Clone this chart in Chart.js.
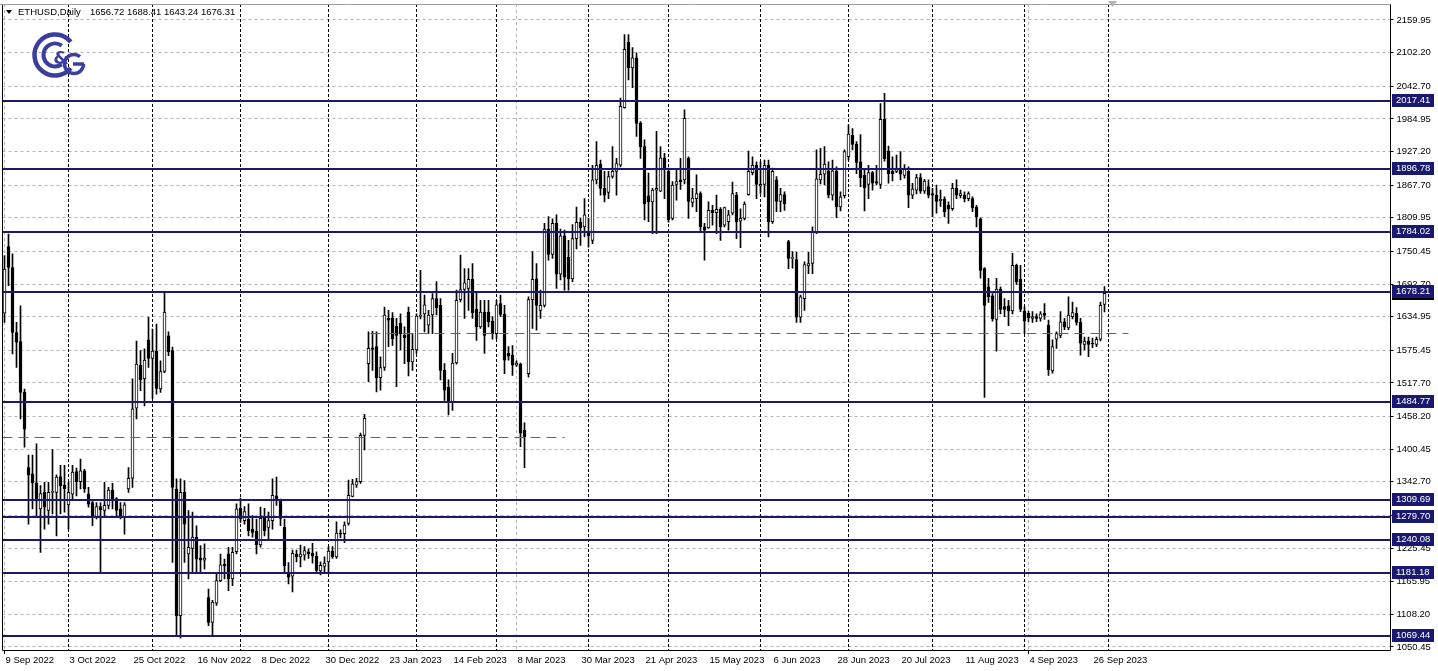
<!DOCTYPE html>
<html><head><meta charset="utf-8">
<script src="https://cdn.jsdelivr.net/npm/chart.js@4/dist/chart.umd.min.js"></script>
<style>html,body{margin:0;padding:0;background:#fff;overflow:hidden}canvas{display:block}</style>
</head><body>
<canvas id="c" width="1438" height="671"></canvas>
<script>
const symbolName = 'ETHUSD,Daily';
const firstBarDate = [2022, 8, 9]; // 9 Sep 2022, weekday bars
const totalSlots = 347;

const opens = [
1641,1759,1722,1607,1591,1501,1368,1357,1341,1295,
1324,1292,1324,1324,1352,1337,1302,1321,1361,1343,
1362,1321,1306,1280,1299,1292,1301,1328,1313,1295,
1280,1330,1349,1473,1549,1525,1594,1561,1574,1507,
1538,1601,1575,1330,1106,1324,1215,1225,1245,1208,
1204,1138,1094,1128,1168,1197,1215,1171,1219,1296,
1274,1277,1259,1255,1231,1278,1262,1274,1318,1309,
1262,1180,1176,1215,1210,1213,1219,1216,1211,1185,
1193,1201,1220,1210,1252,1251,1269,1317,1337,1343,
1425,1552,1580,1582,1527,1545,1632,1633,1618,1623,
1602,1643,1555,1576,1636,1640,1620,1638,1667,1655,
1540,1510,1484,1553,1665,1683,1685,1701,1648,1617,
1643,1643,1627,1605,1658,1639,1570,1567,1549,1551,
1434,1534,1665,1702,1646,1655,1790,1745,1800,1710,
1778,1740,1702,1773,1802,1794,1785,1770,1877,1905,
1862,1855,1883,1892,1903,2005,2121,2075,2093,1977,
1936,1849,1838,1859,1857,1916,1892,1809,1869,1877,
1877,1915,1837,1844,1853,1794,1792,1823,1819,1825,
1797,1803,1818,1850,1804,1809,1851,1890,1903,1866,
1869,1903,1803,1877,1839,1851,1768,1738,1736,1634,
1667,1725,1729,1785,1877,1887,1893,1850,1892,1829,
1849,1918,1956,1940,1909,1885,1869,1890,1874,1869,
1984,1928,1892,1892,1896,1885,1892,1850,1859,1881,
1857,1865,1853,1850,1840,1843,1832,1826,1862,1849,
1850,1844,1844,1829,1808,1720,1688,1672,1630,1684,
1653,1654,1645,1726,1701,1645,1641,1632,1635,1632,
1641,1620,1539,1595,1602,1626,1615,1635,1641,1625,
1586,1592,1588,1586,1595,1656.72];

const highs = [
1743,1781,1746,1625,1654,1507,1390,1390,1410,1336,
1342,1342,1400,1355,1372,1372,1342,1372,1367,1383,
1365,1333,1310,1306,1306,1342,1333,1340,1315,1306,
1306,1368,1525,1592,1575,1578,1634,1613,1622,1557,
1678,1608,1581,1348,1348,1345,1292,1289,1265,1230,
1233,1153,1133,1180,1215,1206,1227,1227,1304,1314,
1299,1304,1283,1277,1298,1296,1289,1348,1351,1312,
1277,1200,1222,1222,1231,1228,1224,1234,1219,1201,
1210,1228,1228,1272,1258,1272,1346,1347,1349,1429,
1462,1608,1609,1608,1564,1652,1646,1642,1632,1640,
1617,1652,1605,1640,1717,1673,1646,1676,1697,1667,
1552,1523,1570,1682,1744,1720,1720,1729,1679,1664,
1664,1664,1635,1664,1673,1655,1582,1584,1557,1553,
1447,1670,1750,1729,1682,1800,1812,1808,1815,1790,
1788,1770,1798,1829,1809,1844,1809,1903,1945,1912,
1892,1892,1936,1915,2022,2134,2134,2111,2102,1980,
1948,1889,1862,1963,1936,1924,1898,1874,1895,1915,
2001,1918,1862,1886,1856,1800,1838,1832,1850,1828,
1829,1823,1873,1855,1826,1838,1928,1918,1909,1909,
1912,1912,1898,1883,1862,1856,1770,1750,1749,1673,
1732,1749,1794,1930,1933,1936,1909,1912,1900,1856,
1930,1974,1968,1945,1957,1894,1903,1892,1903,2012,
2030,1937,1918,1921,1927,1904,1900,1871,1887,1888,
1878,1877,1862,1868,1859,1847,1838,1871,1877,1859,
1856,1856,1847,1832,1810,1722,1703,1676,1703,1688,
1667,1664,1747,1728,1726,1653,1645,1644,1640,1644,
1658,1629,1594,1608,1644,1632,1670,1661,1651,1632,
1599,1599,1597,1599,1661,1688.41];

const lows = [
1625,1690,1569,1545,1454,1404,1268,1295,1283,1218,
1259,1268,1286,1247,1286,1289,1259,1312,1318,1330,
1324,1298,1265,1277,1183,1283,1295,1295,1283,1277,
1250,1324,1333,1454,1504,1477,1545,1490,1498,1501,
1536,1566,1200,1071,1066,1200,1171,1183,1183,1180,
1188,1088,1071,1124,1166,1171,1150,1159,1215,1271,
1268,1247,1245,1215,1227,1247,1239,1259,1301,1265,
1183,1162,1148,1201,1192,1204,1207,1199,1180,1178,
1180,1183,1207,1207,1244,1235,1266,1316,1333,1340,
1399,1520,1540,1502,1505,1540,1582,1584,1511,1576,
1552,1530,1540,1570,1631,1608,1605,1605,1638,1523,
1487,1461,1469,1551,1661,1632,1646,1632,1593,1614,
1570,1617,1595,1596,1635,1534,1558,1531,1547,1405,
1368,1528,1614,1611,1632,1652,1735,1738,1685,1700,
1682,1682,1697,1755,1761,1776,1758,1764,1870,1850,
1838,1844,1880,1850,1900,2004,2054,2040,1954,1915,
1806,1803,1782,1782,1856,1844,1802,1806,1841,1860,
1870,1809,1829,1821,1786,1735,1791,1797,1782,1770,
1794,1788,1815,1773,1757,1806,1850,1886,1844,1853,
1847,1776,1800,1821,1821,1823,1720,1721,1625,1625,
1646,1711,1711,1782,1870,1868,1845,1841,1810,1822,
1845,1912,1930,1888,1865,1822,1844,1859,1868,1862,
1910,1871,1875,1890,1877,1880,1828,1844,1852,1853,
1853,1845,1812,1818,1830,1812,1800,1823,1844,1845,
1838,1840,1821,1794,1703,1492,1660,1627,1574,1640,
1635,1619,1640,1692,1644,1605,1626,1625,1626,1627,
1630,1531,1535,1579,1598,1612,1612,1631,1620,1567,
1576,1564,1580,1582,1592,1643.24];

const closes = [
1719,1722,1607,1590,1501,1436,1355,1341,1309,1322,
1298,1324,1326,1351,1336,1330,1324,1360,1343,1362,
1330,1303,1280,1299,1293,1301,1328,1311,1292,1280,
1302,1349,1472,1551,1523,1558,1561,1574,1508,1538,
1643,1573,1333,1106,1324,1268,1227,1245,1206,1204,
1208,1094,1130,1168,1196,1194,1171,1218,1295,1277,
1290,1256,1253,1231,1278,1256,1274,1319,1309,1278,
1194,1174,1216,1210,1215,1221,1215,1211,1186,1195,
1199,1220,1210,1252,1250,1266,1319,1339,1343,1425,
1455,1579,1577,1527,1545,1638,1629,1596,1602,1605,
1598,1555,1577,1636,1637,1656,1638,1667,1651,1540,
1505,1484,1553,1664,1683,1695,1701,1642,1617,1643,
1602,1626,1605,1656,1639,1558,1565,1549,1553,1429,
1422,1665,1701,1655,1655,1790,1745,1800,1710,1778,
1705,1702,1773,1802,1792,1815,1778,1877,1903,1862,
1850,1883,1892,1906,2007,2108,2075,2093,1977,1936,
1835,1838,1859,1862,1916,1895,1806,1868,1874,1874,
1986,1839,1845,1853,1794,1788,1823,1819,1825,1794,
1828,1815,1853,1803,1809,1834,1892,1903,1869,1869,
1903,1803,1892,1839,1851,1835,1738,1740,1634,1670,
1727,1729,1785,1879,1887,1905,1850,1893,1829,1847,
1927,1958,1940,1908,1881,1863,1890,1871,1871,1984,
1914,1888,1888,1896,1887,1897,1850,1861,1881,1857,
1875,1850,1850,1839,1843,1821,1825,1862,1850,1853,
1844,1853,1828,1812,1717,1655,1670,1631,1684,1648,
1648,1645,1726,1697,1648,1627,1633,1635,1632,1640,
1637,1541,1582,1605,1626,1617,1638,1642,1625,1588,
1592,1586,1587,1595,1655,1676.31];

const xTickLabels = ['9 Sep 2022','3 Oct 2022','25 Oct 2022','16 Nov 2022','8 Dec 2022','30 Dec 2022',
  '23 Jan 2023','14 Feb 2023','8 Mar 2023','30 Mar 2023','21 Apr 2023','15 May 2023','6 Jun 2023',
  '28 Jun 2023','20 Jul 2023','11 Aug 2023','4 Sep 2023','26 Sep 2023'];
const yTicks = [2159.95,2102.20,2042.70,1984.95,1927.20,1867.70,1809.95,1750.45,1692.70,1634.95,
  1575.45,1517.70,1458.20,1400.45,1342.70,1283.20,1225.45,1165.95,1108.20,1050.45];
const levels = [2017.41,1896.78,1784.02,1678.21,1484.77,1309.69,1279.70,1240.08,1181.18,1069.44];
const trendPrices = [1421.2, 1606.1];
const trendFromBar = [0, 92];
const trendToBar = [140, 281];

// ---- derived ----
const nBars = opens.length;
const dates = [];
{
  let t = Date.UTC(firstBarDate[0], firstBarDate[1], firstBarDate[2]);
  while (dates.length < totalSlots) {
    const d = new Date(t);
    const wd = d.getUTCDay();
    if (wd !== 0 && wd !== 6) dates.push(d);
    t += 86400000;
  }
}
const categories = dates.map(d => d.toISOString().slice(0, 10));
const wickData = categories.map((_, i) => i < nBars ? [lows[i], highs[i]] : null);
const bodyData = categories.map((_, i) => {
  if (i >= nBars) return null;
  let lo = Math.min(opens[i], closes[i]), hi = Math.max(opens[i], closes[i]);
  if (hi - lo < 1.8) { const m = (hi + lo) / 2; lo = m - 0.9; hi = m + 0.9; }
  return [lo, hi];
});
const bodyFill = categories.map((_, i) => i < nBars && closes[i] >= opens[i] ? '#ffffff' : '#000000');

const NAVY = '#191970';
const FAMILY = '"Liberation Sans", Arial, sans-serif';
const FONT = '9.5px ' + FAMILY;
const GRID = '#b4b4b4';

const overlay = {
  id: 'overlay',
  beforeDatasetsDraw(chart) {
    const {ctx, chartArea: a, scales: {x}} = chart;
    ctx.save();
    // period separators (first bar of each month)
    ctx.strokeStyle = '#000'; ctx.lineWidth = 1; ctx.setLineDash([3, 2]);
    for (let i = 1; i <= nBars && i < dates.length; i++) {
      if (dates[i].getUTCMonth() !== dates[i - 1].getUTCMonth()) {
        const px = x.getPixelForValue(i);
        ctx.beginPath(); ctx.moveTo(px, a.top); ctx.lineTo(px, a.bottom); ctx.stroke();
      }
    }
    ctx.setLineDash([]);
    // logo
    ctx.strokeStyle = '#3a3f9f'; ctx.fillStyle = '#3a3f9f';
    ctx.lineWidth = 4.5;
    ctx.beginPath(); ctx.arc(55, 55, 20.5, 0.22 * Math.PI, 1.78 * Math.PI); ctx.stroke();
    ctx.lineWidth = 4;
    ctx.beginPath(); ctx.arc(55, 55, 11.5, 0.3 * Math.PI, 1.7 * Math.PI); ctx.stroke();
    ctx.lineWidth = 3.5;
    ctx.beginPath(); ctx.arc(74, 64, 9.5, 0, 1.72 * Math.PI); ctx.stroke();
    ctx.beginPath(); ctx.moveTo(73, 64); ctx.lineTo(84, 64); ctx.stroke();
    ctx.font = 'bold 18px "DejaVu Sans", sans-serif';
    ctx.textAlign = 'center'; ctx.textBaseline = 'middle';
    ctx.fillText('&', 61, 59);
    ctx.restore();
  },
  afterDatasetsDraw(chart) {
    const {ctx, chartArea: a, scales: {x, y}} = chart;
    ctx.save();
    ctx.fillStyle = NAVY;
    levels.forEach(v => {
      const py = Math.round(y.getPixelForValue(v));
      ctx.fillRect(a.left, py - 1, a.right - a.left, 2);
    });
    ctx.strokeStyle = '#3c8c00'; ctx.lineWidth = 1; ctx.setLineDash([10, 6]);
    trendPrices.forEach((v, k) => {
      const py = Math.round(y.getPixelForValue(v)) + 0.5;
      const x0 = Math.max(a.left, x.getPixelForValue(trendFromBar[k]) - 2);
      const x1 = x.getPixelForValue(trendToBar[k]);
      ctx.beginPath(); ctx.moveTo(x0, py); ctx.lineTo(x1, py); ctx.stroke();
    });
    ctx.restore();
  },
  afterDraw(chart) {
    const {ctx, chartArea: a, scales: {y}} = chart;
    ctx.save();
    // frame
    ctx.strokeStyle = '#000'; ctx.lineWidth = 1;
    ctx.beginPath();
    ctx.moveTo(2.5, a.top); ctx.lineTo(2.5, 650.5); ctx.lineTo(1390.5, 650.5); ctx.lineTo(1390.5, a.top);
    ctx.stroke();
    ctx.strokeStyle = '#a0a0a0';
    ctx.beginPath(); ctx.moveTo(0, 4.5); ctx.lineTo(1390.5, 4.5); ctx.stroke();
    // chart shift marker
    ctx.fillStyle = '#b4b4b4';
    ctx.beginPath(); ctx.moveTo(1108, 1); ctx.lineTo(1117, 1); ctx.lineTo(1112.5, 7); ctx.closePath(); ctx.fill();
    // price labels
    ctx.font = FONT; ctx.textBaseline = 'middle'; ctx.textAlign = 'left';
    const bid = closes[nBars - 1];
    const pb = Math.round(y.getPixelForValue(bid));
    ctx.fillStyle = '#000'; ctx.fillRect(1392, pb - 6, 42, 13);
    levels.forEach(v => {
      const py = Math.round(y.getPixelForValue(v));
      ctx.fillStyle = NAVY; ctx.fillRect(1392, py - 7, 42, 13);
      ctx.fillStyle = '#fff'; ctx.fillText(v.toFixed(2), 1396, py - 0.5);
    });
    // header
    ctx.fillStyle = '#000';
    ctx.beginPath(); ctx.moveTo(6, 10); ctx.lineTo(12, 10); ctx.lineTo(9, 14); ctx.closePath(); ctx.fill();
    ctx.fillText(symbolName, 18, 12.5);
    const hdr = [opens[nBars-1], highs[nBars-1], lows[nBars-1], closes[nBars-1]].map(v => v.toFixed(2)).join(' ');
    ctx.fillText(hdr, 90, 12.5);
    ctx.restore();
  }
};

new Chart(document.getElementById('c'), {
  type: 'bar',
  data: {
    labels: categories,
    datasets: [
      { label: 'body', data: bodyData, backgroundColor: bodyFill, borderColor: '#000', borderWidth: 1,
        borderSkipped: false, barThickness: 3, grouped: false, order: 0 },
      { label: 'wick', data: wickData, backgroundColor: '#000', borderWidth: 0,
        barThickness: 1, grouped: false, order: 1 }
    ]
  },
  options: {
    responsive: false, animation: false, devicePixelRatio: 1, events: [],
    layout: { padding: { left: 2.5, top: 4, right: 0, bottom: 0 } },
    plugins: { legend: { display: false }, tooltip: { enabled: false } },
    scales: {
      x: {
        type: 'category', offset: true,
        grid: {
          offset: false, lineWidth: 1, drawTicks: true, tickLength: 4, tickBorderDash: [],
          color: c => (c.index % 8 === 0) ? GRID : 'rgba(0,0,0,0)',
          tickColor: c => (c.index % 16 === 0 && c.index < nBars) ? '#000' : 'rgba(0,0,0,0)'
        },
        border: { display: false, dash: [3, 3] },
        ticks: {
          autoSkip: false, maxRotation: 0, minRotation: 0, align: 'start', labelOffset: 1, padding: 1,
          color: '#000', font: { family: FAMILY, size: 9.5 },
          callback: (v, i) => (i % 16 === 0 && i < nBars) ? xTickLabels[i / 16] : null
        },
        afterFit: s => { s.height = 21; s.paddingLeft = 0; s.paddingRight = 0; }
      },
      y: {
        type: 'linear', position: 'right', min: 1045.14, max: 2188.26,
        grid: { color: GRID, lineWidth: 1, drawTicks: true, tickLength: 3, tickColor: '#000', tickBorderDash: [] },
        border: { display: false, dash: [3, 3] },
        ticks: {
          autoSkip: false, padding: 3, color: '#000',
          font: { family: FAMILY, size: 9.5 },
          callback: v => Number(v).toFixed(2)
        },
        afterBuildTicks: s => { s.ticks = yTicks.map(v => ({ value: v })); },
        afterFit: s => { s.width = 47.5; s.paddingTop = 0; s.paddingBottom = 0; }
      }
    }
  },
  plugins: [overlay]
});
</script>
</body></html>
